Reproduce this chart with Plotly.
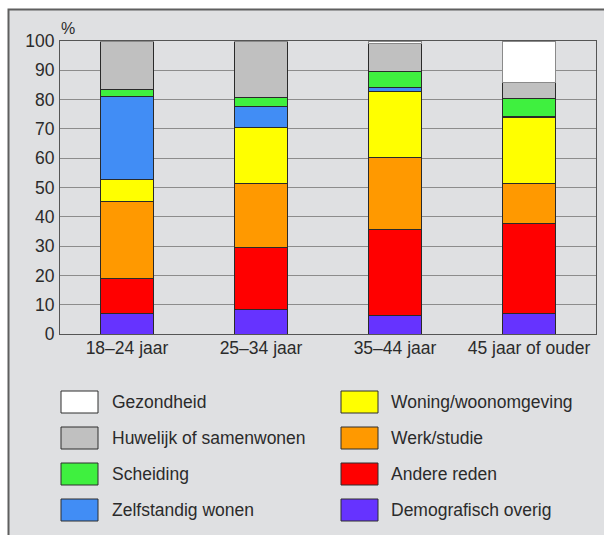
import plotly.graph_objects as go

# Age groups on the x axis
age_groups = ["18–24 jaar", "25–34 jaar", "35–44 jaar", "45 jaar of ouder"]

# Share of movers per main reason (%), stacked bottom to top
demografisch_overig = [7.0, 8.5, 6.3, 7.0]
andere_reden = [12.0, 20.9, 29.4, 30.7]
werk_studie = [26.3, 21.8, 24.6, 13.5]
woning_woonomgeving = [7.4, 19.2, 22.5, 22.6]
zelfstandig_wonen = [28.2, 7.2, 1.3, 0.5]
scheiding = [2.5, 3.2, 5.5, 6.2]
huwelijk_samenwonen = [16.6, 19.2, 9.6, 5.2]
gezondheid = [0.0, 0.0, 0.8, 14.3]

series_names = [
    "Demografisch overig", "Andere reden", "Werk/studie", "Woning/woonomgeving",
    "Zelfstandig wonen", "Scheiding", "Huwelijk of samenwonen", "Gezondheid",
]
series_values = [
    demografisch_overig, andere_reden, werk_studie, woning_woonomgeving,
    zelfstandig_wonen, scheiding, huwelijk_samenwonen, gezondheid,
]
series_colors = [
    "#6633ff", "#ff0000", "#ff9900", "#ffff00",
    "#418df5", "#3ff03f", "#c0c0c0", "#ffffff",
]
y_ticks = [0, 10, 20, 30, 40, 50, 60, 70, 80, 90, 100]

# Legend layout: two columns, top to bottom
legend_left = ["Gezondheid", "Huwelijk of samenwonen", "Scheiding", "Zelfstandig wonen"]
legend_right = ["Woning/woonomgeving", "Werk/studie", "Andere reden", "Demografisch overig"]

W, H = 604, 535
ML, MR, MT, MB = 60, 8, 41, 201
PW, PH = W - ML - MR, H - MT - MB
FONT = "Liberation Sans, Arial, Helvetica, sans-serif"
TEXT = "#2b2b2b"


def px_x(x):
    return (x - ML) / PW


def px_y(y):
    return (H - MB - y) / PH


fig = go.Figure()
for name, vals, col in zip(series_names, series_values, series_colors):
    fig.add_trace(go.Bar(
        x=age_groups, y=vals, name=name,
        marker=dict(color=col,
                    line=dict(color="#8a8a8a" if name == "Gezondheid" else "#2a2a2a", width=1)),
        width=0.4, showlegend=False, hoverinfo="name+y",
    ))

shapes = [
    # grey panel behind the whole chart
    dict(type="rect", xref="paper", yref="paper", layer="below",
         x0=px_x(8.5), x1=px_x(W + 10), y0=px_y(H + 10), y1=px_y(9.5),
         fillcolor="#dfe0e2", line=dict(color="#5f5f5f", width=2)),
]
annotations = [
    dict(text="%", xref="paper", yref="paper", x=px_x(59), y=px_y(28),
         xanchor="left", yanchor="middle", showarrow=False,
         font=dict(family=FONT, size=16, color=TEXT)),
]

color_of = dict(zip(series_names, series_colors))
row_centers = [402, 438, 474, 510]
for labels, sx, tx in [(legend_left, 61, 110), (legend_right, 341, 389)]:
    for lab, cy in zip(labels, row_centers):
        shapes.append(dict(
            type="rect", xref="paper", yref="paper",
            x0=px_x(sx), x1=px_x(sx + 37), y0=px_y(cy + 11), y1=px_y(cy - 11),
            fillcolor=color_of[lab], line=dict(color="#2f2f2f", width=1)))
        annotations.append(dict(
            text=lab, xref="paper", yref="paper", x=px_x(tx), y=px_y(cy),
            xanchor="left", yanchor="middle", showarrow=False,
            font=dict(family=FONT, size=17.5, color=TEXT)))

fig.update_layout(
    barmode="stack",
    width=W, height=H,
    margin=dict(l=ML, r=MR, t=MT, b=MB, pad=0),
    paper_bgcolor="#ffffff",
    plot_bgcolor="#ffffff",
    font=dict(family=FONT, size=17.5, color=TEXT),
    shapes=shapes,
    annotations=annotations,
    xaxis=dict(
        showgrid=False, showline=True, linecolor="#555555", linewidth=1,
        mirror=True, ticks="", tickfont=dict(family=FONT, size=17.5, color=TEXT),
        ticklabelstandoff=-2,
    ),
    yaxis=dict(
        range=[0, 100], tickvals=y_ticks, showgrid=True, gridcolor="#8c8c8c",
        gridwidth=1, showline=True, linecolor="#555555", linewidth=1, mirror=True,
        ticks="", ticklabelstandoff=1, zeroline=False,
        tickfont=dict(family=FONT, size=17.5, color=TEXT),
    ),
)

fig.write_html("out.html")
